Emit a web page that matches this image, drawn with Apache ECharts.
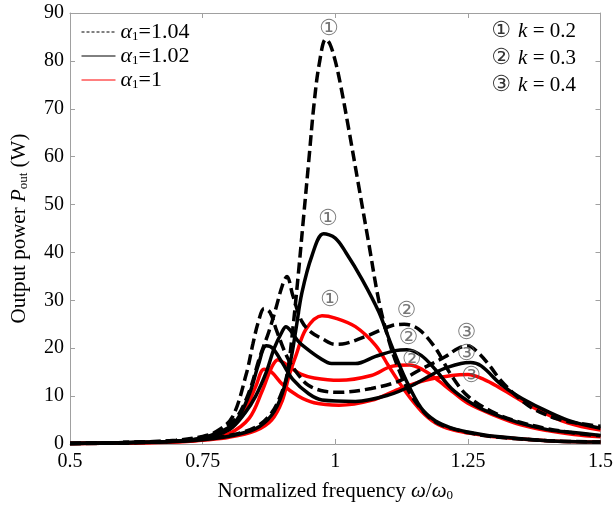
<!DOCTYPE html>
<html>
<head>
<meta charset="utf-8">
<script src="https://cdn.jsdelivr.net/npm/echarts@6/dist/echarts.min.js"></script>
<style>
  html, body { margin: 0; padding: 0; background: #fff; }
  #main { width: 616px; height: 507px; }
</style>
</head>
<body>
<div id="main"></div>
<script>
// Output power vs normalized frequency, k = 0.2 / 0.3 / 0.4, alpha1 = 1.04 / 1.02 / 1
var xTicks = [0.5, 0.75, 1, 1.25, 1.5];
var yTicks = [0, 10, 20, 30, 40, 50, 60, 70, 80, 90];
var legendNames = ['α1=1.04', 'α1=1.02', 'α1=1'];

// alpha1 = 1.04 (dashed)
var a104k02 = [[0.5,0.1],[0.6,0.2],[0.7,0.6],[0.75,1.1],[0.8,1.8],[0.85,3.5],[0.88,6.5],[0.9,11],[0.91,15],[0.92,24],[0.93,35],[0.94,47],[0.95,59],[0.96,71],[0.97,79.5],[0.982,84.5],[0.99,83.5],[1.0,80],[1.01,75],[1.025,66],[1.044,54],[1.063,42],[1.082,30],[1.1,22],[1.12,15.5],[1.143,10.2],[1.175,5.8],[1.2,4],[1.25,2.4],[1.3,1.5],[1.4,0.7],[1.5,0.4]];
var a104k03 = [[0.5,0.1],[0.6,0.3],[0.7,0.7],[0.75,1.4],[0.78,2.6],[0.813,5.4],[0.838,11],[0.857,17.9],[0.875,23.5],[0.888,28.3],[0.9,33],[0.909,35],[0.92,31],[0.937,25.6],[0.955,23.3],[0.975,22],[1.0,20.8],[1.02,21],[1.063,22.7],[1.106,24.7],[1.13,25],[1.157,24],[1.189,20],[1.219,14.3],[1.25,10],[1.3,6.5],[1.35,4.5],[1.4,3.2],[1.45,2.3],[1.5,1.7]];
var a104k04 = [[0.5,0.1],[0.6,0.3],[0.7,0.8],[0.75,1.6],[0.776,2.6],[0.806,5.6],[0.832,14.5],[0.845,21],[0.855,25.5],[0.866,28.3],[0.877,27.5],[0.89,23.5],[0.91,18],[0.93,14.5],[0.95,12.2],[0.98,11],[1.007,10.8],[1.068,11.6],[1.119,13.1],[1.16,15.5],[1.207,18.2],[1.232,20],[1.25,20.5],[1.27,19],[1.29,16.5],[1.312,13.3],[1.344,9.8],[1.376,7.2],[1.42,5.2],[1.46,4.3],[1.5,3.7]];

// alpha1 = 1.02 (solid black)
var a102k02 = [[0.5,0.1],[0.6,0.2],[0.7,0.5],[0.75,0.9],[0.8,1.6],[0.85,3.2],[0.88,6],[0.9,10.5],[0.916,17.5],[0.926,24],[0.937,31.5],[0.956,39.3],[0.978,43.9],[1.0,43],[1.02,40],[1.05,34.5],[1.082,27.6],[1.106,20.6],[1.132,13.7],[1.162,7.5],[1.189,4.8],[1.22,3.3],[1.25,2.5],[1.3,1.6],[1.4,0.7],[1.5,0.4]];
var a102k03 = [[0.5,0.1],[0.6,0.3],[0.7,0.6],[0.75,1.2],[0.8,3],[0.83,6.5],[0.85,10],[0.87,15],[0.885,20],[0.9,23.5],[0.907,24.5],[0.915,23.8],[0.93,21.5],[0.945,20],[0.97,18],[0.993,16.8],[1.038,16.8],[1.076,18.3],[1.113,19.5],[1.135,19.7],[1.162,18.5],[1.189,15.5],[1.219,11.6],[1.25,9],[1.282,7],[1.344,4.5],[1.4,3],[1.44,2.5],[1.5,1.8]];
var a102k04 = [[0.5,0.1],[0.6,0.3],[0.7,0.6],[0.75,1.3],[0.8,3.5],[0.82,6],[0.84,11],[0.855,16.5],[0.87,20.5],[0.882,20],[0.9,17],[0.92,13.5],[0.95,10.5],[0.975,9.2],[1.038,8.9],[1.1,10.2],[1.15,12.5],[1.2,15.5],[1.237,16.8],[1.255,17],[1.275,16.3],[1.312,12.5],[1.344,10],[1.376,8.1],[1.438,5],[1.5,3.3]];

// alpha1 = 1 (red)
var a100k02 = [[0.5,0.1],[0.6,0.2],[0.7,0.4],[0.75,0.8],[0.8,1.4],[0.85,2.8],[0.88,5],[0.9,9],[0.913,14.3],[0.926,18.5],[0.945,24],[0.975,26.8],[1.0,26.3],[1.038,24.5],[1.076,20.6],[1.1,16.4],[1.132,11],[1.162,6.9],[1.189,4.4],[1.22,3],[1.25,2.3],[1.3,1.5],[1.4,0.7],[1.5,0.4]];
var a100k03 = [[0.5,0.1],[0.6,0.2],[0.7,0.5],[0.75,0.9],[0.8,2.2],[0.838,5.4],[0.862,11],[0.88,16],[0.892,17.6],[0.902,17],[0.915,16],[0.935,14.6],[0.96,13.8],[1.007,13.3],[1.068,14.3],[1.106,16.2],[1.14,16.5],[1.165,15.5],[1.189,13.7],[1.22,11],[1.25,8.5],[1.3,6],[1.35,4],[1.4,2.8],[1.45,2],[1.5,1.5]];
var a100k04 = [[0.5,0.1],[0.6,0.2],[0.7,0.5],[0.75,1.1],[0.8,3],[0.83,7],[0.85,12],[0.866,15.6],[0.88,15],[0.9,12.5],[0.93,10],[0.96,8.6],[1.007,8.1],[1.068,9.1],[1.119,11.4],[1.17,13.3],[1.22,14.3],[1.25,14.5],[1.28,13.5],[1.312,11.6],[1.376,7.5],[1.438,4.4],[1.5,2.9]];

// circled curve markers
var markText = ['①', '①', '①', '②', '②', '②', '③', '③', '③'];
var markPos = [[0.988,86.5],[0.986,47],[0.99,30],[1.134,27.7],[1.138,22],[1.144,17.5],[1.247,23.1],[1.247,18.7],[1.256,14.1]];
var kNotes = ['① ', '② ', '③ '];
var kValues = ['0.2', '0.3', '0.4'];

var chart = echarts.init(document.getElementById('main'), null, { renderer: 'canvas' });
var serif = 'Liberation Serif';
var black = '#000000', red = '#ff0000', axisGray = '#a0a0a0';

function curve(name, data, color, dashed) {
  return {
    name: name, type: 'line', data: data, smooth: 0.35, symbol: 'none', z: dashed ? 4 : (color === red ? 2 : 3),
    lineStyle: { color: color, width: 3.5, type: dashed ? [11, 5] : 'solid', cap: 'butt' },
    itemStyle: { color: color }
  };
}

var series = [
  curve(legendNames[2], a100k02, red, false),
  curve(legendNames[2], a100k03, red, false),
  curve(legendNames[2], a100k04, red, false),
  curve(legendNames[1], a102k02, black, false),
  curve(legendNames[1], a102k03, black, false),
  curve(legendNames[1], a102k04, black, false),
  curve(legendNames[0], a104k02, black, true),
  curve(legendNames[0], a104k03, black, true),
  curve(legendNames[0], a104k04, black, true),
  {
    type: 'scatter', symbolSize: 0, z: 6, silent: true,
    data: markPos.map(function(p, i) { return { value: p, label: { formatter: markText[i] } }; }),
    label: { show: true, position: 'inside', color: '#555', fontSize: 22, fontFamily: 'DejaVu Sans' }
  }
];

var notes = kNotes.map(function(c, i) {
  return {
    type: 'text', right: 40, top: 20 + i * 27,
    style: {
      text: '{c|' + c + '}{k|k}{t| = ' + kValues[i] + '}',
      rich: {
        c: { fontSize: 22, fill: '#333', fontFamily: 'DejaVu Sans' },
        k: { fontSize: 21, fontStyle: 'italic', fill: '#000', fontFamily: serif },
        t: { fontSize: 21, fill: '#000', fontFamily: serif }
      }
    }
  };
});

function tickRich(v) { return '{v|' + v + '}'; }
var tickStyle = { v: { fontSize: 20, fontFamily: serif, color: '#000' } };

chart.setOption({
  backgroundColor: '#ffffff',
  animation: false,
  textStyle: { fontFamily: serif },
  grid: { left: 70, right: 13, top: 13, bottom: 61 },
  legend: {
    left: 76, top: 16, orient: 'vertical', itemWidth: 34, itemHeight: 14, itemGap: 2,
    itemStyle: { opacity: 0 },
    data: [
      { name: legendNames[0], lineStyle: { width: 1, type: [3, 2] } },
      { name: legendNames[1], lineStyle: { width: 1 } },
      { name: legendNames[2], lineStyle: { width: 1 } }
    ],
    formatter: function(name) {
      return '{a|α}{s|1}{t|' + name.slice(2) + '}';
    },
    textStyle: {
      color: '#000', fontFamily: serif,
      rich: {
        a: { fontSize: 22, fontStyle: 'italic', fontFamily: serif, verticalAlign: 'bottom', lineHeight: 22 },
        s: { fontSize: 13, fontFamily: serif, verticalAlign: 'bottom', lineHeight: 16 },
        t: { fontSize: 22, fontFamily: serif, verticalAlign: 'bottom', lineHeight: 22 }
      }
    }
  },
  xAxis: [{
    type: 'value', min: xTicks[0], max: xTicks[xTicks.length - 1], interval: 0.25,
    name: '{n|Normalized frequency }{w|ω}{n|/}{w|ω}{s|0}', nameLocation: 'middle', nameGap: 36,
    nameTextStyle: {
      rich: {
        n: { fontSize: 21, fontFamily: serif, color: '#000', verticalAlign: 'bottom', lineHeight: 22 },
        w: { fontSize: 21, fontFamily: serif, fontStyle: 'italic', color: '#000', verticalAlign: 'bottom', lineHeight: 22 },
        s: { fontSize: 13, fontFamily: serif, color: '#000', verticalAlign: 'bottom', lineHeight: 16 }
      }
    },
    axisLine: { onZero: false, lineStyle: { color: axisGray, width: 1 } },
    axisTick: { inside: true, length: 5, lineStyle: { color: axisGray } },
    axisLabel: { color: '#000', fontSize: 20, fontFamily: serif, margin: 8, formatter: tickRich, rich: tickStyle },
    splitLine: { show: false }
  }, {
    type: 'value', position: 'top', min: xTicks[0], max: xTicks[xTicks.length - 1], interval: 0.25,
    axisLine: { onZero: false, lineStyle: { color: axisGray, width: 1 } },
    axisTick: { inside: true, length: 5, lineStyle: { color: axisGray } },
    axisLabel: { show: false }, splitLine: { show: false }
  }],
  yAxis: [{
    type: 'value', min: yTicks[0], max: yTicks[yTicks.length - 1], interval: 10,
    name: '{n|Output power }{p|P}{s|out}{n| (W)}', nameLocation: 'middle', nameGap: 40, nameRotate: 90,
    nameTextStyle: {
      rich: {
        n: { fontSize: 21, fontFamily: serif, color: '#000', verticalAlign: 'bottom', lineHeight: 22 },
        p: { fontSize: 21, fontFamily: serif, fontStyle: 'italic', color: '#000', verticalAlign: 'bottom', lineHeight: 22 },
        s: { fontSize: 13, fontFamily: serif, color: '#000', verticalAlign: 'bottom', lineHeight: 16 }
      }
    },
    axisLine: { show: true, onZero: false, lineStyle: { color: axisGray, width: 1 } },
    axisTick: { show: true, inside: true, length: 5, lineStyle: { color: axisGray } },
    axisLabel: { color: '#000', fontSize: 20, fontFamily: serif, margin: 6, formatter: tickRich, rich: tickStyle },
    splitLine: { show: false }
  }, {
    type: 'value', position: 'right', min: yTicks[0], max: yTicks[yTicks.length - 1], interval: 10,
    axisLine: { show: true, onZero: false, lineStyle: { color: axisGray, width: 1 } },
    axisTick: { show: true, inside: true, length: 5, lineStyle: { color: axisGray } },
    axisLabel: { show: false }, splitLine: { show: false }
  }],
  graphic: notes,
  series: series
});
</script>
</body>
</html>
